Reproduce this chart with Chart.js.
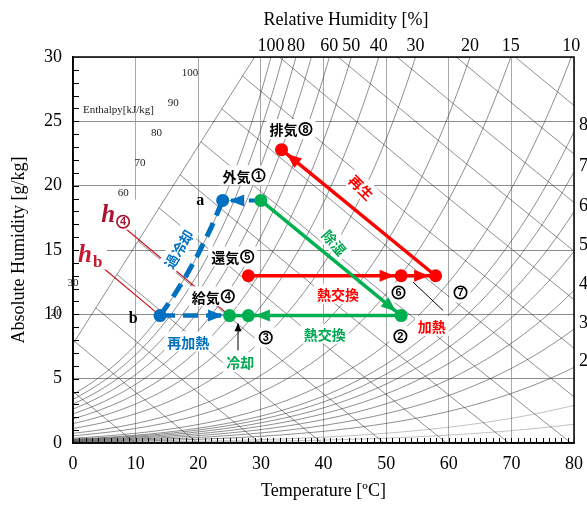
<!DOCTYPE html>
<html>
<head>
<meta charset="utf-8">
<script src="https://cdn.jsdelivr.net/npm/chart.js@4.4.1/dist/chart.umd.min.js"></script>
<style>
  html, body { margin: 0; padding: 0; background: #fff; }
  #wrap { width: 587px; height: 505px; }
</style>
</head>
<body>
<div id="wrap"><canvas id="psyChart" width="587" height="505"></canvas></div>
<script>
'use strict';

const SERIF = '"Liberation Serif", "Times New Roman", serif';
const SANS = '"Liberation Sans", Arial, sans-serif';
const JP = '"Noto Sans CJK JP", "Noto Sans", sans-serif';

const RED = '#ff0000';
const GREEN = '#00b050';
const BLUE = '#0070c0';

// saturation vapour pressure of water [kPa], every 2 °C
const satTemps = [0, 2, 4, 6, 8, 10, 12, 14, 16, 18, 20, 22, 24, 26, 28, 30, 32, 34, 36, 38, 40,
                  42, 44, 46, 48, 50, 52, 54, 56, 58, 60, 62, 64, 66, 68, 70, 72, 74, 76, 78, 80];
const satPress = [0.6113, 0.7060, 0.8135, 0.9353, 1.0729, 1.2281, 1.4027, 1.5989, 1.8187, 2.0647,
                  2.3392, 2.6452, 2.9856, 3.3637, 3.7828, 4.2467, 4.7592, 5.3247, 5.9479, 6.6336,
                  7.3838, 8.2096, 9.1118, 10.099, 11.177, 12.352, 13.631, 15.022, 16.533, 18.171,
                  19.946, 21.866, 23.942, 26.183, 28.599, 31.201, 34.000, 37.009, 40.239, 43.703, 47.414];
const P_ATM = 101.325;

const rhLevels = [0.5, 1, 2, 3, 4, 5, 6, 7, 8, 10, 15, 20, 30, 40, 50, 60, 70, 80, 90, 100];
const rhTopLabels = [100, 80, 60, 50, 40, 30, 20, 15, 10];
const rhSideLabels = [8, 7, 6, 5, 4, 3, 2];

const enthalpyLevels = [10, 20, 30, 40, 50, 60, 70, 80, 90, 100, 110, 120, 130, 140, 150];
const enthalpyLabels = [20, 30, 40, 50, 60, 70, 80, 90, 100];
// slanted line the enthalpy lines start from
const hScaleTemp = [0, 29];
const hScaleHum = [7.7, 30];

// process states: temperature [°C], absolute humidity [g/kg]
const stateNames = ['①', '②', '③', '④', '⑤', '⑥', '⑦', '⑧', 'a', 'b'];
const stateTemp  = [30.0, 52.4, 28.0, 25.0, 28.0, 52.4, 57.9, 33.3, 23.9, 13.9];
const stateHum   = [18.85, 9.9, 9.9, 9.9, 13.0, 13.0, 13.0, 22.8, 18.85, 9.9];
const stateColor = [GREEN, GREEN, GREEN, GREEN, RED, RED, RED, RED, BLUE, BLUE];

const S = Object.fromEntries(stateNames.map((n, i) => [n, i]));
const statePt = n => ({ x: stateTemp[S[n]], y: stateHum[S[n]] });

function humidity(ps, rh) {
    const pv = ps * rh / 100;
    return 622 * pv / (P_ATM - pv);
}

function rhCurve(rh) {
    const pts = [];
    for (let i = 0; i < satTemps.length; i++) {
        const v = humidity(satPress[i], rh);
        pts.push({ x: satTemps[i], y: v });
        if (v > 30) break;
    }
    return pts;
}

function humAtEnthalpy(h, t) {
    return (h - 1.006 * t) / (2.501 + 0.00186 * t);
}

function enthalpyOf(t, v) {
    return 1.006 * t + v * (2.501 + 0.00186 * t);
}

function scaleHumAt(t) {
    return hScaleHum[0] + (hScaleHum[1] - hScaleHum[0]) * (t - hScaleTemp[0]) / (hScaleTemp[1] - hScaleTemp[0]);
}

function enthalpyLine(h) {
    let t0;
    const f = t => humAtEnthalpy(h, t) - scaleHumAt(t);
    if (f(hScaleTemp[0]) < 0) {
        t0 = 0;
    } else if (f(hScaleTemp[1]) > 0) {
        t0 = (h - 30 * 2.501) / (1.006 + 30 * 0.00186);
    } else {
        let lo = hScaleTemp[0], hi = hScaleTemp[1];
        for (let k = 0; k < 40; k++) {
            const mid = (lo + hi) / 2;
            if (f(mid) > 0) lo = mid; else hi = mid;
        }
        t0 = (lo + hi) / 2;
    }
    let t1 = h / 1.006;
    if (t1 > 80) t1 = 80;
    const tm = (t0 + t1) / 2;
    return [t0, tm, t1].map(t => ({ x: t, y: humAtEnthalpy(h, t) }));
}

// saturated leg a -> b follows the 100 % curve
function saturationLeg() {
    const pts = [statePt('b')];
    for (let i = 0; i < satTemps.length; i++) {
        const t = satTemps[i];
        if (t > stateTemp[S.b] + 0.5 && t < stateTemp[S.a] - 0.5) {
            pts.push({ x: t, y: humidity(satPress[i], 100) });
        }
    }
    pts.push(statePt('a'));
    return pts;
}

const THIN = 'rgba(40,40,40,0.75)';

function bgLine(data, extra) {
    return Object.assign({
        layer: 'bg', data, showLine: true, pointRadius: 0, borderColor: THIN,
        borderWidth: 0.7, order: 3, cubicInterpolationMode: 'monotone'
    }, extra || {});
}

function procLine(from, to, color, extra) {
    return Object.assign({
        layer: 'process', data: [statePt(from), statePt(to)], showLine: true, pointRadius: 0,
        borderColor: color, borderWidth: 3.5, order: 2
    }, extra || {});
}

const datasets = [];
rhLevels.forEach(rh => datasets.push(bgLine(rhCurve(rh), {
    rh, borderColor: rh < 2 ? 'rgba(60,60,60,0.45)' : THIN
})));
enthalpyLevels.forEach(h => datasets.push(bgLine(enthalpyLine(h), { cubicInterpolationMode: 'default' })));
datasets.push(bgLine(hScaleTemp.map((t, i) => ({ x: t, y: hScaleHum[i] })), { cubicInterpolationMode: 'default' }));

// enthalpy leaders for h④ and hb
const h4 = enthalpyOf(stateTemp[S['④']], stateHum[S['④']]);
const hb = enthalpyOf(stateTemp[S.b], stateHum[S.b]);
datasets.push(bgLine([{ x: 8.0, y: humAtEnthalpy(h4, 8.0) }, statePt('④')],
    { borderColor: '#d0101a', borderWidth: 1.2, cubicInterpolationMode: 'default' }));
datasets.push(bgLine([{ x: 4.3, y: humAtEnthalpy(hb, 4.3) }, statePt('b')],
    { borderColor: '#d0101a', borderWidth: 1.2, cubicInterpolationMode: 'default' }));

datasets.push(procLine('①', '②', GREEN));
datasets.push(procLine('②', '③', GREEN));
datasets.push(procLine('③', '④', GREEN));
datasets.push(procLine('⑤', '⑥', RED));
datasets.push(procLine('⑥', '⑦', RED));
datasets.push(procLine('⑦', '⑧', RED));
datasets.push(procLine('①', 'a', BLUE, { borderWidth: 4, borderDash: [12, 6] }));
datasets.push(Object.assign(procLine('a', 'b', BLUE, { borderWidth: 5, borderDash: [15, 8] }),
    { data: saturationLeg() }));
datasets.push(procLine('b', '④', BLUE, { borderWidth: 4.5, borderDash: [15, 8] }));
// pointer lines for 加熱 and 冷却
datasets.push({ layer: 'process', data: [{ x: 54.3, y: 12.5 }, { x: 59.1, y: 10.3 }], showLine: true,
    pointRadius: 0, borderColor: '#000', borderWidth: 1, order: 2 });
datasets.push({ layer: 'process', data: [{ x: 26.35, y: 7.2 }, { x: 26.35, y: 9.3 }], showLine: true,
    pointRadius: 0, borderColor: '#000', borderWidth: 1, order: 2 });

datasets.push({
    layer: 'states', data: stateNames.map((n, i) => ({ x: stateTemp[i], y: stateHum[i] })),
    pointRadius: 6.5, pointBackgroundColor: stateColor, pointBorderColor: stateColor,
    pointBorderWidth: 0, showLine: false, order: 1
});

const arrows = [
    ['①', '②', GREEN], ['②', '③', GREEN], ['①', 'a', BLUE], ['b', '④', BLUE],
    ['⑤', '⑥', RED], ['⑥', '⑦', RED], ['⑦', '⑧', RED]
];

const CIRCLED = '①②③④⑤⑥⑦⑧';
const RING = 14;

function arrowHead(ctx, x1, y1, x2, y2, back, len, half, color) {
    const a = Math.atan2(y2 - y1, x2 - x1);
    ctx.save();
    ctx.translate(x2 - back * Math.cos(a), y2 - back * Math.sin(a));
    ctx.rotate(a);
    ctx.beginPath();
    ctx.moveTo(0, 0);
    ctx.lineTo(-len, -half);
    ctx.lineTo(-len, half);
    ctx.closePath();
    ctx.fillStyle = color;
    ctx.fill();
    ctx.restore();
}

// circled digit drawn by hand, centred on (cx, cy)
function ring(ctx, ch, cx, cy, color) {
    ctx.save();
    ctx.strokeStyle = color;
    ctx.fillStyle = color;
    ctx.lineWidth = 1.7;
    ctx.beginPath();
    ctx.arc(cx, cy, RING / 2 - 0.8, 0, Math.PI * 2);
    ctx.stroke();
    ctx.font = `bold 11px ${SANS}`;
    ctx.textAlign = 'center';
    ctx.textBaseline = 'middle';
    ctx.fillText(String(CIRCLED.indexOf(ch) + 1), cx, cy + 0.5);
    ctx.restore();
}

function richWidth(ctx, text) {
    let w = 0;
    for (const ch of text) w += CIRCLED.includes(ch) ? RING + 1 : ctx.measureText(ch).width;
    return w;
}

function boxedText(ctx, text, x, y, opts) {
    ctx.save();
    ctx.translate(x, y);
    if (opts.angle) ctx.rotate(opts.angle * Math.PI / 180);
    ctx.font = opts.font;
    ctx.textAlign = 'left';
    ctx.textBaseline = 'middle';
    const w = richWidth(ctx, text);
    if (opts.box !== false) {
        ctx.fillStyle = '#fff';
        ctx.fillRect(-w / 2 - 3, -opts.size / 2 - 3, w + 6, opts.size + 6);
    }
    const color = opts.color || '#000';
    ctx.fillStyle = color;
    let cx = -w / 2;
    for (const ch of text) {
        if (CIRCLED.includes(ch)) {
            ring(ctx, ch, cx + 1 + RING / 2, 0, color);
            cx += RING + 1;
        } else {
            ctx.fillText(ch, cx, 1);
            cx += ctx.measureText(ch).width;
        }
    }
    ctx.restore();
}

const notes = [
    { text: '排気⑧', t: 34.8, v: 24.4 },
    { text: '外気①', t: 27.3, v: 20.8 },
    { text: '還気⑤', t: 25.5, v: 14.5 },
    { text: '給気④', t: 22.4, v: 11.4 },
    { text: '③', t: 30.7, v: 8.2 },
    { text: '⑥', t: 51.9, v: 11.7 },
    { text: '⑦', t: 61.8, v: 11.7 },
    { text: '②', t: 52.2, v: 8.3 },
    { text: '加熱', t: 57.3, v: 9.1, color: RED },
    { text: '熱交換', t: 42.3, v: 11.6, color: RED },
    { text: '熱交換', t: 40.2, v: 8.5, color: '#00a650' },
    { text: '再加熱', t: 18.4, v: 7.9, color: BLUE },
    { text: '冷却', t: 26.7, v: 6.3, color: '#00a650' },
    { text: '除湿', t: 41.8, v: 15.6, color: '#00a650', angle: 49 },
    { text: '再生', t: 46.1, v: 19.9, color: RED, angle: 45 },
    { text: '過冷却', t: 16.8, v: 15.1, color: BLUE, angle: -59 }
];

function drawNotes(chart) {
    const ctx = chart.ctx;
    const xs = chart.scales.x, ys = chart.scales.y;
    const X = t => xs.getPixelForValue(t), Y = v => ys.getPixelForValue(v);

    ctx.save();
    // enthalpy scale numbers
    ctx.font = `11px ${SERIF}`;
    ctx.fillStyle = '#222';
    ctx.textAlign = 'center';
    ctx.textBaseline = 'middle';
    enthalpyLabels.forEach(h => {
        ctx.fillText(String(h), X((h - 30) * 0.267), Y(12.45 + (h - 30) * 0.233));
    });
    ctx.textAlign = 'left';
    ctx.fillText('Enthalpy[kJ/kg]', X(1.6), Y(25.9));

    // h④ and hb tags
    const tags = [
        { t: 4.5, v: 17.2, sub: '④', color: '#a8152f', w: 38 },
        { t: 0.8, v: 14.1, sub: 'b', color: '#c8192d', w: 32 }
    ];
    tags.forEach(g => {
        const x = X(g.t), y = Y(g.v);
        ctx.fillStyle = '#fff';
        ctx.fillRect(x - 3, y - 22, g.w, 30);
        ctx.fillStyle = g.color;
        ctx.font = `italic bold 25px ${SERIF}`;
        ctx.textBaseline = 'alphabetic';
        ctx.fillText('h', x, y);
        const hw = ctx.measureText('h').width;
        if (g.sub === '④') {
            ring(ctx, g.sub, x + hw + 1 + RING / 2, y, g.color);
        } else {
            ctx.font = `bold 17px ${SERIF}`;
            ctx.fillText(g.sub, x + hw + 1, y + 5);
        }
    });

    notes.forEach(n => {
        boxedText(ctx, n.text, X(n.t), Y(n.v), {
            font: `bold 14px ${JP}`, size: 14, color: n.color, angle: n.angle
        });
    });
    boxedText(ctx, 'a', X(20.3), Y(18.9), { font: `bold 16px ${SERIF}`, size: 14, box: false });
    boxedText(ctx, 'b', X(9.6), Y(9.7), { font: `bold 16px ${SERIF}`, size: 14, box: false });
    ctx.restore();
}

const psyPlugin = {
    id: 'psyPlugin',
    beforeDatasetsDraw(chart) {
        chart.$notesDone = false;
    },
    beforeDatasetDraw(chart, args) {
        const ds = chart.data.datasets[args.index];
        if (ds.layer !== 'bg' && !chart.$notesDone) {
            drawNotes(chart);
            chart.$notesDone = true;
        }
    },
    afterDatasetsDraw(chart) {
        const ctx = chart.ctx;
        const xs = chart.scales.x, ys = chart.scales.y;
        const X = t => xs.getPixelForValue(t), Y = v => ys.getPixelForValue(v);
        const area = chart.chartArea;

        arrows.forEach(([a, b, color]) => {
            arrowHead(ctx, X(stateTemp[S[a]]), Y(stateHum[S[a]]), X(stateTemp[S[b]]), Y(stateHum[S[b]]),
                6.5, 15, 6, color);
        });
        arrowHead(ctx, X(26.35), Y(7.2), X(26.35), Y(9.3), 0, 8, 3.5, '#000');

        ctx.save();
        // minor ticks
        ctx.strokeStyle = '#000';
        ctx.lineWidth = 1;
        ctx.beginPath();
        for (let v = 1; v < 30; v++) {
            const y = Math.round(Y(v)) + 0.5;
            ctx.moveTo(area.left, y);
            ctx.lineTo(area.left + 6, y);
        }
        for (let t = 1; t < 80; t++) {
            const x = Math.round(X(t)) + 0.5;
            ctx.moveTo(x, area.bottom);
            ctx.lineTo(x, area.bottom - 5);
        }
        ctx.stroke();

        // frame
        ctx.lineWidth = 1.5;
        ctx.strokeRect(area.left, area.top, area.right - area.left, area.bottom - area.top);

        // relative humidity labels
        ctx.fillStyle = '#000';
        ctx.font = `18px ${SERIF}`;
        ctx.textAlign = 'center';
        ctx.textBaseline = 'middle';
        ctx.fillText('Relative Humidity [%]', X(43.6), 20);
        rhTopLabels.forEach(rh => {
            const pts = rhCurve(rh);
            let tTop = 80;
            for (let i = 1; i < pts.length; i++) {
                if (pts[i].y >= 30) {
                    const p = pts[i - 1], q = pts[i];
                    tTop = p.x + (q.x - p.x) * (30 - p.y) / (q.y - p.y);
                    break;
                }
            }
            ctx.fillText(String(rh), X(tTop), 46);
        });
        ctx.textAlign = 'left';
        rhSideLabels.forEach(rh => {
            const v = humidity(satPress[satPress.length - 1], rh);
            ctx.fillText(String(rh), area.right + 5, Y(v) - 6);
        });
        ctx.restore();
    }
};

Chart.defaults.font.family = SERIF;

new Chart(document.getElementById('psyChart'), {
    type: 'scatter',
    data: { datasets },
    options: {
        responsive: false,
        animation: false,
        events: [],
        layout: { padding: { top: 57, right: 13, left: 0, bottom: 0 } },
        plugins: { legend: { display: false }, tooltip: { enabled: false } },
        scales: {
            x: {
                type: 'linear', min: 0, max: 80,
                ticks: { stepSize: 10, color: '#000', font: { family: SERIF, size: 18 }, padding: 10, maxRotation: 0 },
                grid: { color: '#a8a8a8', lineWidth: 1, drawTicks: false },
                border: { display: true, color: '#000', width: 1.5 },
                title: { display: true, text: 'Temperature [ºC]', color: '#000',
                         font: { family: SERIF, size: 18 }, padding: { top: 0, bottom: 3 } },
                afterFit: s => { s.height = 62; s.paddingLeft = 0; s.paddingRight = 0; }
            },
            y: {
                type: 'linear', min: 0, max: 30,
                ticks: { stepSize: 5, color: '#000', font: { family: SERIF, size: 18 }, padding: 11 },
                grid: { color: '#8c8c8c', lineWidth: 1, drawTicks: false },
                border: { display: true, color: '#000', width: 1.5 },
                title: { display: true, text: 'Absolute Humidity [g/kg]', color: '#000',
                         font: { family: SERIF, size: 18 }, padding: { top: 8, bottom: 0 } },
                afterFit: s => { s.width = 73; s.paddingTop = 0; s.paddingBottom = 0; }
            }
        }
    },
    plugins: [psyPlugin]
});
</script>
</body>
</html>
